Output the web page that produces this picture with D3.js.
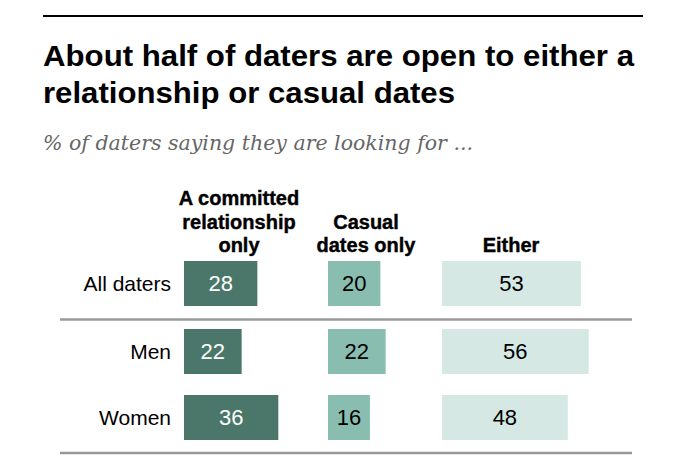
<!DOCTYPE html>
<html>
<head>
<meta charset="utf-8">
<script src="https://cdn.jsdelivr.net/npm/d3@7"></script>
<style>
  body { margin: 0; background: #fff; }
</style>
</head>
<body>
<div id="chart"></div>
<script>
const groups = ['All daters', 'Men', 'Women']
const committed = [28, 22, 36]
const casual = [20, 22, 16]
const either = [53, 56, 48]
const columns = [
	{ key: 'committed', label: ['A committed', 'relationship', 'only'], values: committed },
	{ key: 'casual', label: ['Casual', 'dates only'], values: casual },
	{ key: 'either', label: ['Either'], values: either }
]

const w = 688
const h = 462
const colors = ['#4a7769', '#88bdb0', '#d5e8e3']
const textColors = ['#fff', '#000', '#000']
const colLeft = [184, 328, 442]
const headCenter = [239, 366, 511]
const rowTop = [261, 329, 395]
const barH = 45
const headFont = 'Liberation Sans, Arial, sans-serif'

const svg = d3.select('#chart')
	.append('svg')
	.attr('width', w)
	.attr('height', h);

// top rule
svg.append('line')
	.attr('x1', 43).attr('x2', 643)
	.attr('y1', 16).attr('y2', 16)
	.attr('stroke', '#000')
	.attr('stroke-width', 2);

const title = svg.append('text')
	.attr('x', 43)
	.attr('font-family', headFont)
	.attr('font-weight', 'bold')
	.attr('font-size', 30)
	.attr('fill', '#000');
title.append('tspan').attr('x', 43).attr('y', 66)
	.attr('textLength', 591).attr('lengthAdjust', 'spacingAndGlyphs')
	.text('About half of daters are open to either a');
title.append('tspan').attr('x', 43).attr('y', 103)
	.attr('textLength', 412).attr('lengthAdjust', 'spacingAndGlyphs')
	.text('relationship or casual dates');

svg.append('text')
	.attr('x', 43)
	.attr('y', 150)
	.attr('font-family', 'DejaVu Serif, Georgia, serif')
	.attr('font-style', 'italic')
	.attr('font-size', 21)
	.attr('fill', '#666')
	.attr('textLength', 430)
	.attr('lengthAdjust', 'spacingAndGlyphs')
	.text('% of daters saying they are looking for ...');

const x = d3.scaleLinear()
	.domain([0, 1])
	.range([0, 2.62]);

// column headers, bottom-aligned
columns.forEach((col, i) => {
	const n = col.label.length
	const t = svg.append('text')
		.attr('text-anchor', 'middle')
		.attr('font-family', headFont)
		.attr('font-weight', 'bold')
		.attr('font-size', 20)
		.attr('fill', '#000')
		.attr('stroke', '#000')
		.attr('stroke-width', 0.4);
	col.label.forEach((line, j) => {
		t.append('tspan')
			.attr('x', headCenter[i])
			.attr('y', 252 - (n - 1 - j) * 23.5)
			.text(line);
	});
});

// row labels
svg.selectAll('.rowlabel')
	.data(groups)
	.enter()
	.append('text')
		.attr('class', 'rowlabel')
		.attr('x', 171)
		.attr('y', (d, i) => rowTop[i] + barH / 2)
		.attr('dy', '0.36em')
		.attr('text-anchor', 'end')
		.attr('font-family', 'Liberation Sans, Arial, sans-serif')
		.attr('font-size', 21)
		.attr('fill', '#000')
		.text(d => d);

columns.forEach((col, i) => {
	const g = svg.append('g');
	g.selectAll('rect')
		.data(col.values)
		.enter()
		.append('rect')
			.attr('x', colLeft[i])
			.attr('y', (d, j) => rowTop[j])
			.attr('width', d => x(d))
			.attr('height', barH)
			.attr('fill', colors[i]);
	g.selectAll('text')
		.data(col.values)
		.enter()
		.append('text')
			.attr('x', d => colLeft[i] + x(d) / 2)
			.attr('y', (d, j) => rowTop[j] + barH / 2)
			.attr('dy', '0.36em')
			.attr('text-anchor', 'middle')
			.attr('font-family', 'Liberation Sans, Arial, sans-serif')
			.attr('font-size', 22)
			.attr('fill', textColors[i])
			.text(d => d);
});

// separator lines
[319.5, 453].forEach(yy => {
	svg.append('line')
		.attr('x1', 60).attr('x2', 632)
		.attr('y1', yy).attr('y2', yy)
		.attr('stroke', '#999')
		.attr('stroke-width', 2.5);
});
</script>
</body>
</html>
